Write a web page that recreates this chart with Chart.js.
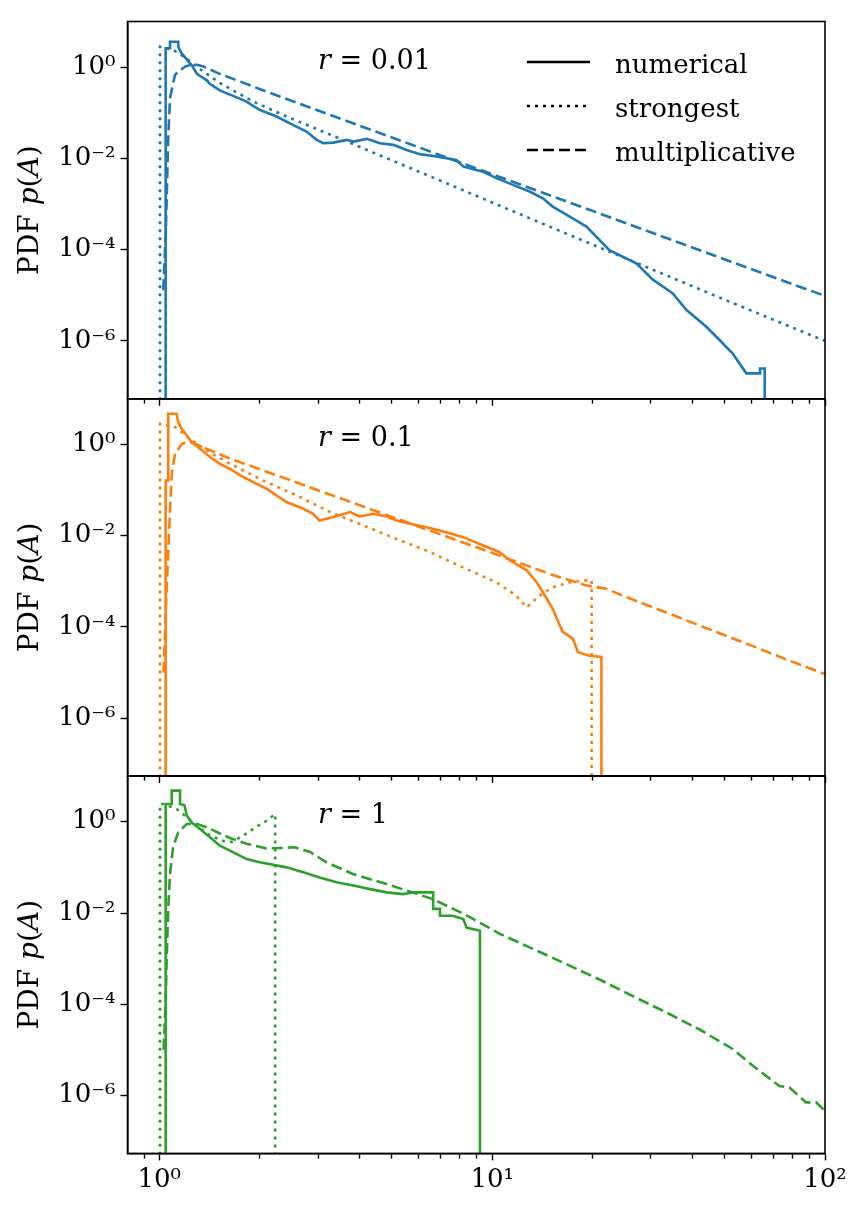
<!DOCTYPE html>
<html>
<head>
<meta charset="utf-8">
<title>PDF p(A)</title>
<script src="https://cdn.jsdelivr.net/npm/chart.js@4.4.0/dist/chart.umd.min.js"></script>
<style>
  body { margin: 0; background: #fff; }
  #wrap { position: relative; width: 861px; height: 1213px; background: #fff; }
  #wrap canvas { position: absolute; left: 0; }
</style>
</head>
<body>
<div id="wrap">
  <canvas id="panel-1" width="861" height="420" style="top:0px"></canvas>
  <canvas id="panel-2" width="861" height="420" style="top:377px"></canvas>
  <canvas id="panel-3" width="861" height="458" style="top:755px"></canvas>
</div>
<script>
// Three stacked log-log panels: PDF p(A) for r = 0.01, 0.1, 1

// Labels
const rValues = ['0.01', '0.1', '1'];
const seriesNames = ['numerical', 'strongest', 'multiplicative'];
const colors = ['#1f77b4', '#ff7f0e', '#2ca02c'];

// Axis ticks
const xTicks = [0.9, 1, 2, 3, 4, 5, 6, 7, 8, 9, 10, 20, 30, 40, 50, 60, 70, 80, 90, 100];
const yTicks = [1e-6, 1e-4, 1e-2, 1];

// ---- r = 0.01 ----
// numerical (fine histogram, traced; repeated x = vertical edge)
const numX1 = [1.045, 1.045, 1.077, 1.077, 1.14, 1.14, 1.167, 1.19, 1.236, 1.25,
               1.294, 1.309, 1.387, 1.419, 1.52, 1.59, 1.687, 1.828, 2.0, 2.25,
               2.52, 2.77, 2.97, 3.11, 3.33, 3.66, 3.83, 4.2, 4.6, 5.05,
               5.53, 6.07, 6.8, 7.8, 8.2, 9.4, 10.3, 11.6, 13.0, 14.2,
               15.2, 17.1, 19.2, 22.5, 27.1, 30.4, 34.9, 38.3, 44.0, 48.2,
               52.8, 58.0, 63.8, 63.8, 65.9, 65.9];
const numY1 = [1e-8, 2.6, 2.6, 3.6, 3.6, 2.8, 2.0, 1.7, 1.22, 1.12,
               0.74, 0.68, 0.52, 0.43, 0.31, 0.27, 0.226, 0.176, 0.116, 0.0826,
               0.0543, 0.0387, 0.0255, 0.0215, 0.0222, 0.0255, 0.0234, 0.0268, 0.0215, 0.0198,
               0.0153, 0.0124, 0.011, 0.0093, 0.0066, 0.0051, 0.0037, 0.0026, 0.00186, 0.00134,
               0.00088, 5.3e-4, 3.2e-4, 9.8e-5, 5.0e-5, 2.2e-5, 1.1e-5, 4.8e-6, 2.05e-6, 1.05e-6,
               5.3e-7, 1.95e-7, 1.95e-7, 2.5e-7, 2.5e-7, 1e-8];
// strongest
const strX1 = [1.005, 1.005, 1.1, 1.2, 1.3, 1.52, 1.915, 2.41, 3.03, 3.83, 4.82, 6.65, 10, 20, 50, 100];
const strY1 = [1e-8, 2.8, 2.4, 1.6, 1.0, 0.45, 0.176, 0.083, 0.0415, 0.0205, 0.0101, 0.0038, 0.00108, 1.3e-4, 8.0e-6, 1.0e-6];
// multiplicative
const mulX1 = [1.028, 1.045, 1.052, 1.062, 1.077, 1.115, 1.195, 1.265, 1.35, 1.5, 2, 3, 5, 10, 20, 50, 100];
const mulY1 = [1.3e-5, 2e-4, 1.1e-3, 0.02, 0.21, 0.68, 1.03, 1.18, 1.05, 0.74, 0.332, 0.112, 0.0288, 0.00452, 7.1e-4, 6.1e-5, 9.7e-6];

// ---- r = 0.1 ----
const numX2 = [1.045, 1.045, 1.064, 1.064, 1.127, 1.14, 1.167, 1.21, 1.25, 1.325,
               1.42, 1.52, 1.63, 1.75, 1.915, 2.1, 2.25, 2.41, 2.71, 2.9,
               3.03, 3.33, 3.74, 4.0, 4.39, 4.82, 5.16, 5.66, 6.35, 6.97,
               8.19, 9.4, 10.5, 11.3, 12.7, 13.6, 14.4, 15.2, 15.8, 16.3,
               17.5, 18.1, 19.6, 21.3, 21.3];
const numY2 = [1e-8, 0.162, 0.162, 4.7, 4.7, 3.1, 2.21, 1.57, 1.13, 0.805,
               0.53, 0.377, 0.293, 0.209, 0.15, 0.107, 0.076, 0.0546, 0.039, 0.0302,
               0.0215, 0.0256, 0.033, 0.0264, 0.0302, 0.0264, 0.0215, 0.0182, 0.0154, 0.013,
               0.0093, 0.0061, 0.0044, 0.0029, 0.00174, 9.6e-4, 4.9e-4, 2.5e-4, 1.28e-4, 7.8e-5,
               5.5e-5, 2.8e-5, 2.35e-5, 2.2e-5, 1e-8];
const strX2 = [1.005, 1.005, 1.115, 1.167, 1.22, 1.294, 1.42, 1.63, 2.05, 2.59,
               3.26, 4.1, 5.16, 6.5, 8.19, 10.3, 11.8, 12.7, 13.9, 15.2,
               17.1, 19.2, 19.9, 19.9];
const strY2 = [1e-8, 2.84, 2.4, 1.87, 1.45, 1.04, 0.66, 0.38, 0.162, 0.076,
               0.033, 0.0168, 0.0085, 0.0044, 0.002, 9.5e-4, 4.9e-4, 2.7e-4, 4.9e-4, 7.4e-4,
               9.5e-4, 1.05e-3, 1.05e-3, 1e-8];
const mulX2 = [1.03, 1.052, 1.077, 1.09, 1.115, 1.17, 1.236, 1.4, 1.63, 2.0,
               3.0, 5.0, 10, 15.2, 19.2, 22.0, 25.3, 30.4, 38.3, 48.2,
               60.7, 76.4, 100];
const mulY2 = [1e-5, 6.3e-4, 0.036, 0.23, 0.63, 1.035, 1.16, 0.78, 0.49, 0.288,
               0.099, 0.0258, 0.0042, 0.00138, 8.1e-4, 6.9e-4, 4.5e-4, 2.7e-4, 1.4e-4, 7.3e-5,
               3.8e-5, 1.95e-5, 9.3e-6];

// ---- r = 1 ----
const numX3 = [1.045, 1.045, 1.09, 1.09, 1.154, 1.154, 1.19, 1.21, 1.25, 1.325,
               1.42, 1.52, 1.67, 1.83, 2.0, 2.2, 2.41, 2.71, 3.03, 3.41,
               3.83, 4.3, 4.82, 5.4, 5.79, 6.65, 6.65, 6.97, 6.97, 7.6,
               8.19, 8.38, 9.19, 9.19];
const numY3 = [1e-8, 2.44, 2.44, 4.8, 4.8, 2.44, 2.3, 1.35, 0.97, 0.69,
               0.455, 0.298, 0.213, 0.152, 0.129, 0.114, 0.1, 0.078, 0.06, 0.047,
               0.04, 0.0334, 0.0283, 0.026, 0.0283, 0.0283, 0.0123, 0.0123, 0.0087, 0.0087,
               0.0074, 0.0048, 0.0041, 1e-8];
const strX3 = [1.005, 1.005, 1.03, 1.127, 1.21, 1.295, 1.42, 1.556, 1.65, 1.79, 1.96, 2.1, 2.23, 2.23];
const strY3 = [1e-8, 2.44, 2.44, 1.9, 1.25, 0.82, 0.5, 0.38, 0.36, 0.5, 0.78, 1.05, 1.48, 1e-8];
const mulX3 = [1.03, 1.045, 1.052, 1.064, 1.077, 1.10, 1.14, 1.21, 1.3, 1.39,
               1.63, 1.83, 2.1, 2.3, 2.55, 2.83, 3.18, 3.83, 4.82, 5.79,
               6.65, 8.38, 10.5, 13.3, 16.7, 21.0, 26.5, 33.4, 42.0, 52.8,
               60.7, 66.5, 72.9, 78.2, 87.7, 94.0, 100];
const mulY3 = [1e-5, 1e-4, 8.9e-4, 0.013, 0.071, 0.275, 0.59, 0.89, 0.89, 0.75,
               0.44, 0.33, 0.26, 0.265, 0.275, 0.22, 0.129, 0.071, 0.043, 0.028,
               0.02, 0.0089, 0.00355, 0.00162, 7.6e-4, 3.5e-4, 1.5e-4, 6.6e-5, 2.8e-5, 1.05e-5,
               4.5e-6, 2.7e-6, 1.62e-6, 1.5e-6, 7.1e-7, 7.1e-7, 4.6e-7];

const panels = [
  { num: [numX1, numY1], str: [strX1, strY1], mul: [mulX1, mulY1] },
  { num: [numX2, numY2], str: [strX2, strY2], mul: [mulX2, mulY2] },
  { num: [numX3, numY3], str: [strX3, strY3], mul: [mulX3, mulY3] },
];

// layout of the three canvases (plot area 127.5..825 wide, 377.3 tall)
const padTops = [21.5, 21.8, 21.1];
const xAxisHeights = [21.2, 20.9, 59.6];

const FONT = '"DejaVu Serif"';
const SUP = { '0': '⁰', '1': '¹', '2': '²', '3': '³', '4': '⁴', '5': '⁵', '6': '⁶', '7': '⁷', '8': '⁸', '9': '⁹', '-': '⁻' };
const dashes = { num: [], str: [3, 5], mul: [11, 5] };

function powLabel(v) {
  const e = Math.round(Math.log10(v));
  return '10' + String(e).split('').map(c => SUP[c]).join('');
}

function toPoints(pair) {
  return pair[0].map((x, i) => ({ x: x, y: pair[1][i] }));
}

// draw text made of normal / italic runs
function drawRuns(ctx, runs, x, y, size, align) {
  let total = 0;
  runs.forEach(r => {
    ctx.font = (r[1] ? 'italic ' : '') + size + 'px ' + FONT;
    total += ctx.measureText(r[0]).width;
  });
  let cx = align === 'center' ? x - total / 2 : x;
  ctx.textAlign = 'left';
  runs.forEach(r => {
    ctx.font = (r[1] ? 'italic ' : '') + size + 'px ' + FONT;
    ctx.fillText(r[0], cx, y);
    cx += ctx.measureText(r[0]).width;
  });
}

// frame, y title, r label and (first panel) legend
const panelDecor = {
  id: 'panelDecor',
  afterDraw(chart, args, opts) {
    const ctx = chart.ctx;
    const a = chart.chartArea;
    ctx.save();
    ctx.strokeStyle = '#000';
    ctx.lineWidth = 1.6;
    ctx.setLineDash([]);
    ctx.strokeRect(a.left, a.top, a.right - a.left, a.bottom - a.top);

    ctx.fillStyle = '#000';
    ctx.textBaseline = 'alphabetic';
    // y axis title
    ctx.save();
    ctx.translate(38, (a.top + a.bottom) / 2);
    ctx.rotate(-Math.PI / 2);
    drawRuns(ctx, [['PDF ', false], ['p', true], ['(', false], ['A', true], [')', false]], 0, 0, 28, 'center');
    ctx.restore();

    // r = ... label
    const lx = chart.scales.x.getPixelForValue(3);
    drawRuns(ctx, [['r', true], [' = ' + opts.r, false]], lx, a.top + 47, 27, 'left');

    if (opts.legend) {
      seriesNames.forEach((name, i) => {
        const ly = a.top + 40.5 + i * 44;
        ctx.strokeStyle = '#000';
        ctx.lineWidth = 2.6;
        ctx.setLineDash(dashes[['num', 'str', 'mul'][i]]);
        ctx.beginPath();
        ctx.moveTo(527, ly);
        ctx.lineTo(590, ly);
        ctx.stroke();
        ctx.setLineDash([]);
        ctx.font = '26px ' + FONT;
        ctx.fillText(name, 615, ly + 11);
      });
    }
    ctx.restore();
  }
};

function makePanel(i) {
  const p = panels[i];
  const color = colors[i];
  const last = i === panels.length - 1;
  const ds = (key, order) => ({
    label: key,
    data: toPoints(p[key]),
    borderColor: color,
    borderWidth: 2.6,
    borderDash: dashes[key],
    pointRadius: 0,
    fill: false,
    tension: 0,
    order: order,
  });

  return new Chart(document.getElementById('panel-' + (i + 1)), {
    type: 'line',
    data: { datasets: [ds('mul', 1), ds('str', 2), ds('num', 3)] },
    plugins: [panelDecor],
    options: {
      responsive: false,
      animation: false,
      devicePixelRatio: 1,
      layout: { autoPadding: false, padding: { top: padTops[i], right: 36, bottom: 0, left: 0 } },
      plugins: {
        legend: { display: false },
        tooltip: { enabled: false },
        panelDecor: { r: rValues[i], legend: i === 0 },
      },
      scales: {
        x: {
          type: 'logarithmic',
          min: 0.8026,
          max: 100,
          afterBuildTicks: axis => { axis.ticks = xTicks.map(v => ({ value: v })); },
          afterFit: axis => { axis.height = xAxisHeights[i]; },
          border: { display: true, color: '#000', width: 1.6 },
          grid: {
            drawOnChartArea: false,
            drawTicks: true,
            tickLength: 7,
            tickWidth: 1.4,
            tickColor: '#000',
            tickBorderDash: c => (c.tick && [1, 10, 100].includes(c.tick.value)) ? [] : [4, 20],
          },
          ticks: {
            autoSkip: false,
            maxRotation: 0,
            minRotation: 0,
            padding: 4,
            color: '#000',
            font: { family: 'DejaVu Serif', size: 26 },
            callback: v => (last && [1, 10, 100].includes(v)) ? powLabel(v) : '',
          },
        },
        y: {
          type: 'logarithmic',
          min: 5.4e-8,
          max: 10,
          afterBuildTicks: axis => { axis.ticks = yTicks.map(v => ({ value: v })); },
          afterFit: axis => { axis.width = 127.5; },
          border: { display: true, color: '#000', width: 1.6 },
          grid: {
            drawOnChartArea: false,
            drawTicks: true,
            tickLength: 7,
            tickWidth: 1.4,
            tickColor: '#000',
          },
          ticks: {
            padding: 5,
            color: '#000',
            font: { family: 'DejaVu Serif', size: 26 },
            callback: v => powLabel(v),
          },
        },
      },
    },
  });
}

const charts = panels.map((p, i) => makePanel(i));
</script>
</body>
</html>
